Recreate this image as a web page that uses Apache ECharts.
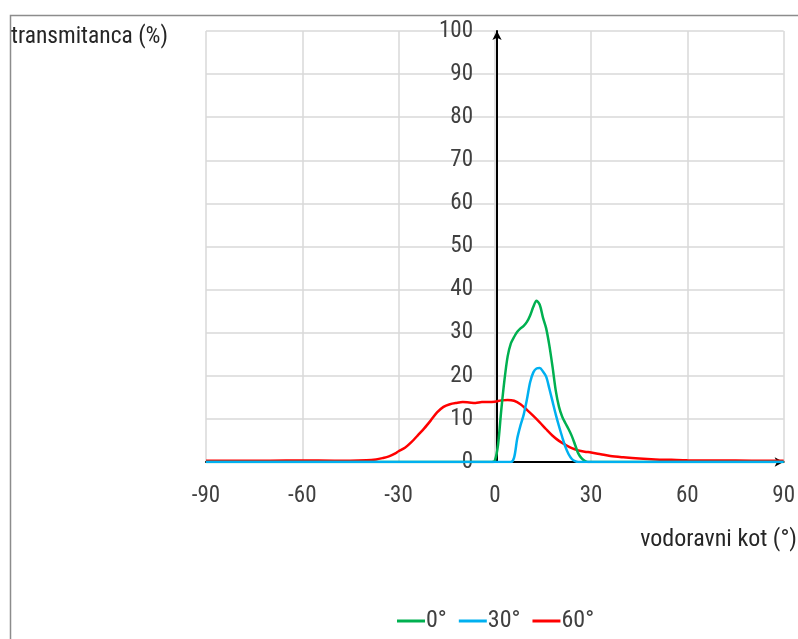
<!DOCTYPE html>
<html><head><meta charset="utf-8">
<script src="https://cdn.jsdelivr.net/npm/echarts@6/dist/echarts.min.js"></script>
<style>html,body{margin:0;padding:0;background:#fff}#c{width:798px;height:639px}</style>
</head><body><div id="c"></div>
<script>
var FONT = '"Roboto Condensed", "Liberation Sans Narrow", "Arial Narrow", sans-serif';
var xTicks = [-90, -60, -30, 0, 30, 60, 90];
var yTicks = [0, 10, 20, 30, 40, 50, 60, 70, 80, 90, 100];
var seriesNames = ['0°', '30°', '60°'];

var angles0 = [-90, -30, -1, 0, 1, 2, 3, 4, 5, 6, 7, 8, 9, 10, 11, 12, 13, 14, 15, 16, 17, 18, 19, 20, 21, 22, 23, 24, 25, 26, 27, 28, 29, 40, 90];
var trans0  = [0, 0, 0, 0.3, 4, 12, 19, 24.5, 27.5, 29, 30.2, 31, 31.6, 32.5, 34, 36, 37.4, 36.5, 33.5, 31, 27, 22, 16.5, 12.8, 10.5, 9, 7.6, 6, 4, 2, 0.9, 0.3, 0, 0, 0];

var angles30 = [-90, -30, 0, 5, 6, 7, 8, 9, 10, 11, 12, 13, 14, 15, 16, 17, 18, 19, 20, 21, 22, 23, 24, 25, 26, 40, 90];
var trans30  = [0, 0, 0, 0, 1, 5.5, 8.5, 11, 14.5, 18.5, 20.8, 21.7, 21.8, 21, 19.8, 17, 14, 11, 8.3, 5.8, 3.5, 1.8, 0.7, 0.2, 0, 0, 0];

var angles60 = [-90, -80, -70, -60, -50, -45, -40, -37, -35, -33, -31, -30, -28, -26, -24, -22, -20, -18, -16, -14, -12, -10, -8, -6, -4, -2, 0, 2, 4, 6, 8, 10, 12, 14, 16, 18, 20, 22, 24, 26, 28, 30, 33, 36, 40, 45, 50, 55, 60, 70, 80, 90];
var trans60  = [0.3, 0.3, 0.3, 0.35, 0.3, 0.3, 0.4, 0.6, 0.9, 1.3, 2, 2.5, 3.3, 4.6, 6.2, 7.8, 9.6, 11.5, 12.8, 13.4, 13.7, 13.9, 13.8, 13.7, 13.9, 13.9, 14, 14.3, 14.4, 14.2, 13.4, 12.1, 10.7, 9.2, 7.6, 6.1, 4.9, 4, 3.2, 2.7, 2.4, 2.2, 1.8, 1.4, 1.1, 0.8, 0.6, 0.5, 0.4, 0.35, 0.3, 0.3];

function pairs(xs, ys) { return xs.map(function (x, i) { return [x, ys[i]]; }); }

var GRID_LEFT = 206, GRID_RIGHT = 10;
var chartW = 798;
var plotW = chartW - GRID_LEFT - GRID_RIGHT;
// shift the y axis (line + labels) to x = 0
var yOffset = -plotW * (0 - xTicks[0]) / (xTicks[xTicks.length - 1] - xTicks[0]);

var chart = echarts.init(document.getElementById('c'));
chart.setOption({
  animation: false,
  textStyle: { fontFamily: FONT },
  graphic: [{
    type: 'rect', left: 8, top: 13, shape: { width: 800, height: 640 },
    style: { fill: 'none', stroke: '#8c8c8c', lineWidth: 1.5 }, silent: true, z: -1
  }],
  title: [
    { text: 'transmitanca (%)', left: 11, top: 25, padding: 0,
      textStyle: { fontFamily: FONT, fontSize: 23.5, fontWeight: 'normal', color: '#262626' } },
    { text: 'vodoravni kot (°)', right: 1, top: 528, padding: 0,
      textStyle: { fontFamily: FONT, fontSize: 24, fontWeight: 'normal', color: '#262626' } }
  ],
  legend: {
    data: seriesNames, top: 604, left: 392, icon: 'rect',
    itemWidth: 28, itemHeight: 3, itemGap: 12,
    textStyle: { fontFamily: FONT, fontSize: 24, color: '#404040', padding: [0, 0, 0, -4] }
  },
  grid: { left: GRID_LEFT, right: GRID_RIGHT, top: 31, bottom: 177, containLabel: false },
  xAxis: {
    type: 'value', min: xTicks[0], max: xTicks[xTicks.length - 1], interval: 30,
    axisLine: { show: true, onZero: true, symbol: ['none', 'arrow'], symbolSize: [7, 9],
      lineStyle: { color: '#000', width: 2 } },
    axisTick: { show: false },
    axisLabel: { margin: 23, fontSize: 23, color: '#404040', fontFamily: FONT,
      formatter: function (v) { return xTicks.indexOf(v) >= 0 ? String(v) : ''; } },
    splitLine: { show: true, lineStyle: { color: '#d9d9d9', width: 1.5 } }
  },
  yAxis: {
    type: 'value', min: yTicks[0], max: yTicks[yTicks.length - 1], interval: 10,
    offset: yOffset,
    axisLine: { show: true, onZero: false, symbol: ['none', 'arrow'], symbolSize: [7, 9],
      lineStyle: { color: '#000', width: 2 } },
    axisTick: { show: false },
    axisLabel: { margin: 24, fontSize: 23, color: '#404040', fontFamily: FONT,
      formatter: function (v) { return yTicks.indexOf(v) >= 0 ? String(v) : ''; } },
    splitLine: { show: true, lineStyle: { color: '#d9d9d9', width: 1.5 } }
  },
  series: [
    { name: seriesNames[0], type: 'line', data: pairs(angles0, trans0), smooth: 0.3,
      showSymbol: false, color: '#00b050', lineStyle: { width: 2.5 }, z: 3 },
    { name: seriesNames[1], type: 'line', data: pairs(angles30, trans30), smooth: 0.3,
      showSymbol: false, color: '#00b0f0', lineStyle: { width: 2.5 }, z: 4 },
    { name: seriesNames[2], type: 'line', data: pairs(angles60, trans60), smooth: 0.3,
      showSymbol: false, color: '#ff0000', lineStyle: { width: 2.5 }, z: 2 }
  ]
});
</script>
</body></html>
